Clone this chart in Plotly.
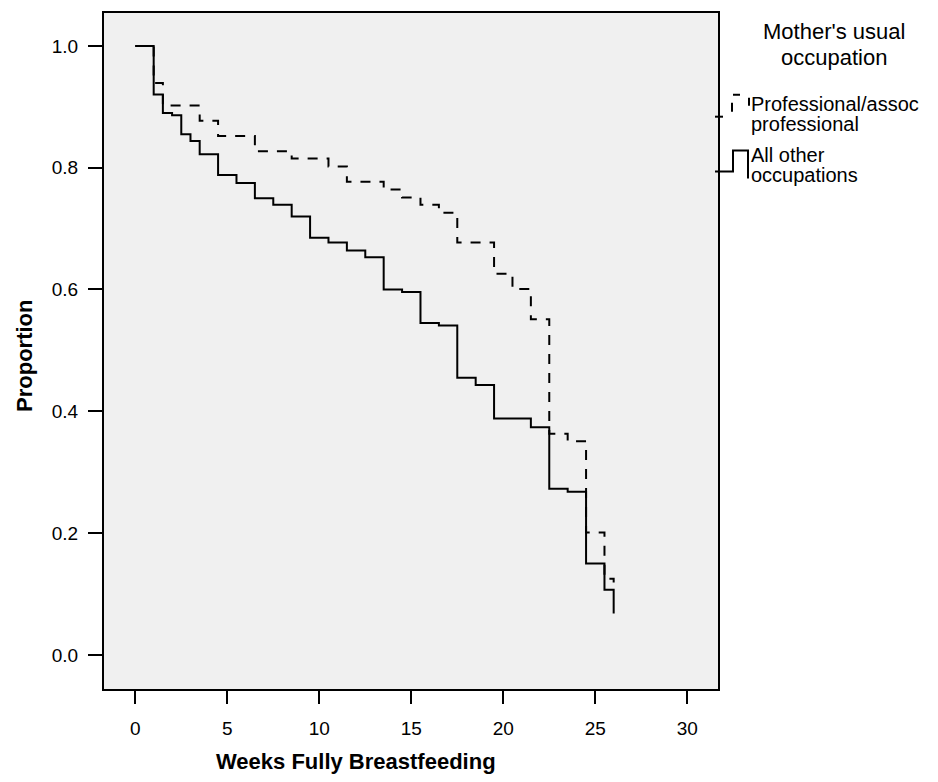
import plotly.graph_objects as go

# Kaplan-Meier style step data (weeks, proportion still fully breastfeeding)
weeks_other = [0, 1, 1.5, 2, 2.5, 3, 3.5, 4.5, 5.5, 6.5, 7.5, 8.5, 9.5, 10.5, 11.5,
               12.5, 13.5, 14.5, 15.5, 16.5, 17.5, 18.5, 19.5, 21.5, 22.5, 23.5,
               24.5, 25.5, 26]
prop_other = [1.0, 0.920, 0.890, 0.886, 0.855, 0.844, 0.822, 0.788, 0.775, 0.750,
              0.739, 0.720, 0.685, 0.677, 0.664, 0.653, 0.600, 0.596, 0.545, 0.541,
              0.455, 0.443, 0.388, 0.374, 0.273, 0.268, 0.150, 0.107, 0.068]

weeks_prof = [0, 1, 1.5, 3.5, 4.5, 6.5, 8.5, 10.5, 11.5, 13.5, 14.5, 15.5, 16.5,
              17.5, 19.5, 20.5, 21.5, 22.5, 23.5, 24.5, 25.5, 26]
prop_prof = [1.0, 0.939, 0.902, 0.877, 0.852, 0.827, 0.815, 0.802, 0.777, 0.764,
             0.751, 0.739, 0.726, 0.677, 0.626, 0.601, 0.551, 0.363, 0.351, 0.201,
             0.125, 0.119]

x_ticks = [0, 5, 10, 15, 20, 25, 30]
y_ticks = [0.0, 0.2, 0.4, 0.6, 0.8, 1.0]
y_tick_labels = ["0.0", "0.2", "0.4", "0.6", "0.8", "1.0"]

legend_title = ["Mother's usual", "occupation"]
legend_prof = ["Professional/assoc", "professional"]
legend_other = ["All other", "occupations"]

FONT = "Liberation Sans, Arial, sans-serif"
OFF = 8  # page body margin
W, H = 930, 766
L, T = 104 - OFF, 11 - OFF
PW, PH = 614, 678
R = W - L - PW
B = H - T - PH


def px(x):
    return (x - OFF - L) / PW


def py(y):
    return (T + PH - (y - OFF)) / PH


fig = go.Figure()
fig.add_trace(go.Scatter(x=weeks_prof, y=prop_prof, mode="lines", line_shape="hv",
                         line=dict(color="black", width=2, dash="10px,9px"),
                         name="Professional/assoc professional", showlegend=False))
fig.add_trace(go.Scatter(x=weeks_other, y=prop_other, mode="lines", line_shape="hv",
                         line=dict(color="black", width=2),
                         name="All other occupations", showlegend=False))

shapes = []
# legend glyphs (drawn in pixel positions on the paper)
shapes.append(dict(type="path", xref="paper", yref="paper",
                   path=f"M{px(715)},{py(170)} L{px(733)},{py(170)} L{px(733)},{py(149)} "
                        f"L{px(748)},{py(149)} L{px(748)},{py(177)}",
                   line=dict(color="black", width=2)))
for (x0, y0, x1, y1) in [(715, 115, 723, 115), (732, 101, 732, 110),
                         (733, 93, 740, 93), (749, 96, 749, 104)]:
    shapes.append(dict(type="line", xref="paper", yref="paper",
                       x0=px(x0), y0=py(y0), x1=px(x1), y1=py(y1),
                       line=dict(color="black", width=2)))

annotations = []


def txt(s, x, y, size, anchor="left", bold=False, angle=0):
    annotations.append(dict(text=f"<b>{s}</b>" if bold else s, x=px(x), y=py(y),
                            xref="paper", yref="paper", showarrow=False,
                            xanchor=anchor, yanchor="middle", textangle=angle,
                            font=dict(family=FONT, size=size, color="black")))


txt(legend_title[0], 834, 30, 22, anchor="center")
txt(legend_title[1], 834, 56, 22, anchor="center")
txt(legend_prof[0], 749, 102, 20)
txt(legend_prof[1], 749, 122, 20)
txt(legend_other[0], 749, 153, 20)
txt(legend_other[1], 749, 173, 20)
txt("Weeks Fully Breastfeeding", 356, 762, 22, anchor="center", bold=True)
txt("Proportion", 25, 355, 22, anchor="center", bold=True, angle=-90)

fig.update_layout(
    width=W, height=H,
    margin=dict(l=L, r=R, t=T, b=B, pad=0),
    paper_bgcolor="white", plot_bgcolor="#F0F0F0",
    shapes=shapes, annotations=annotations,
    font=dict(family=FONT, color="black"),
    xaxis=dict(range=[-1.70, 31.67], tickvals=x_ticks, ticks="outside", ticklen=13,
               tickwidth=2, tickcolor="black", showgrid=False, zeroline=False,
               showline=True, linewidth=2, linecolor="black", mirror=True,
               tickfont=dict(family=FONT, size=19, color="black"),
               ticklabelstandoff=8),
    yaxis=dict(range=[-0.056, 1.054], tickvals=y_ticks, ticktext=y_tick_labels,
               ticks="outside", ticklen=14, tickwidth=2, tickcolor="black",
               showgrid=False, zeroline=False, showline=True, linewidth=2,
               linecolor="black", mirror=True,
               tickfont=dict(family=FONT, size=19, color="black"),
               ticklabelstandoff=6),
)

fig.write_html("out.html")
